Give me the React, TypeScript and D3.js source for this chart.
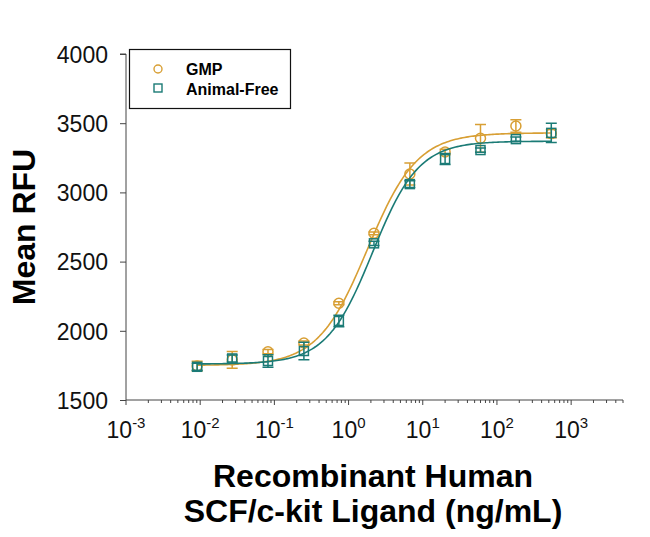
import * as d3 from "d3";
import React, { useEffect, useRef } from "react";

// concentrations (ng/mL), 3-fold dilution series
const doses = [0.0091, 0.027, 0.082, 0.25, 0.74, 2.2, 6.7, 20, 60, 180, 540];

const gmpMean = [1745, 1790, 1849, 1912, 2199, 2704, 3133, 3292, 3391, 3480, 3425];
const gmpErr = [35, 60, 15, 15, 10, 10, 80, 20, 100, 45, 30];

const afMean = [1740, 1800, 1782, 1854, 2071, 2632, 3060, 3241, 3306, 3385, 3430];
const afErr = [25, 25, 45, 64, 42, 15, 25, 40, 15, 15, 70];

// 4PL fit parameters: bottom, top, EC50, hill
const gmpFit = [1750, 3430, 1.8, 1.3];
const afFit = [1760, 3370, 2.1, 1.4];

const yTicks = [1500, 2000, 2500, 3000, 3500, 4000];
const xExponents = [-3, -2, -1, 0, 1, 2, 3];

const GMP_COLOR = "#d89f34";
const AF_COLOR = "#1b7b76";
const FONT = "'Liberation Sans', Arial, sans-serif";

export default function App() {
  const ref = useRef<SVGSVGElement>(null);

  useEffect(() => {
    const svg = d3.select(ref.current);
    svg.selectAll("*").remove();

    const x = d3.scaleLog().domain([0.001, 5000]).range([126, 623]);
    const y = d3.scaleLinear().domain([1500, 4000]).range([400, 54]);

    // y axis
    const yAxis = svg
      .append("g")
      .attr("transform", "translate(126,0)")
      .call(d3.axisLeft(y).tickValues(yTicks).tickSize(6).tickPadding(12).tickFormat(d3.format("d")));
    yAxis.select(".domain").attr("stroke", "#444").attr("d", `M-6,${y(4000)}H0V${y(1500)}`);
    yAxis.selectAll(".tick line").attr("stroke", "#444");
    yAxis.selectAll("text").attr("font-family", FONT).attr("font-size", 23).attr("fill", "#111").attr("dy", "0.36em");

    // x axis with minor ticks
    const minor: number[] = [];
    for (let e = -3; e <= 3; e++) {
      for (let m = 2; m <= 9; m++) {
        const v = m * Math.pow(10, e);
        if (v <= 5000) minor.push(v);
      }
    }
    const xg = svg.append("g").attr("transform", "translate(0,400)");
    xg.append("line").attr("x1", 126).attr("x2", 623).attr("stroke", "#444");
    xg.selectAll(".minor")
      .data(minor)
      .join("line")
      .attr("x1", (d) => x(d))
      .attr("x2", (d) => x(d))
      .attr("y2", 3)
      .attr("stroke", "#444");
    xg.selectAll(".major")
      .data(xExponents)
      .join("line")
      .attr("x1", (d) => x(Math.pow(10, d)))
      .attr("x2", (d) => x(Math.pow(10, d)))
      .attr("y2", 5)
      .attr("stroke", "#444");
    const lbl = xg
      .selectAll(".lbl")
      .data(xExponents)
      .join("text")
      .attr("x", (d) => x(Math.pow(10, d)))
      .attr("y", 38)
      .attr("text-anchor", "middle")
      .attr("font-family", FONT)
      .attr("fill", "#111");
    lbl.append("tspan").attr("font-size", 23).text("10");
    lbl.append("tspan").attr("font-size", 15).attr("dy", -10).text((d) => String(d));

    // titles
    svg
      .append("text")
      .attr("transform", "translate(35,227) rotate(-90)")
      .attr("text-anchor", "middle")
      .attr("font-family", FONT)
      .attr("font-weight", "bold")
      .attr("font-size", 32)
      .text("Mean RFU");
    const xt = svg
      .append("text")
      .attr("text-anchor", "middle")
      .attr("font-family", FONT)
      .attr("font-weight", "bold")
      .attr("font-size", 32);
    xt.append("tspan").attr("x", 373).attr("y", 487).text("Recombinant Human");
    xt.append("tspan").attr("x", 373).attr("y", 522).text("SCF/c-kit Ligand (ng/mL)");

    const series = [
      { mean: gmpMean, err: gmpErr, fit: gmpFit, color: GMP_COLOR, shape: "circle" },
      { mean: afMean, err: afErr, fit: afFit, color: AF_COLOR, shape: "square" },
    ];

    const curveX = d3.range(0, 201).map((i) =>
      Math.pow(10, Math.log10(doses[0]) + (i / 200) * (Math.log10(doses[doses.length - 1]) - Math.log10(doses[0])))
    );

    series.forEach((s) => {
      const [bot, top, ec50, hill] = s.fit;
      const fourPL = (c: number) => bot + (top - bot) / (1 + Math.pow(ec50 / c, hill));
      const line = d3
        .line<number>()
        .x((c) => x(c))
        .y((c) => y(fourPL(c)));
      const g = svg.append("g");
      g.append("path")
        .datum(curveX)
        .attr("fill", "none")
        .attr("stroke", s.color)
        .attr("stroke-width", 1.6)
        .attr("d", line);

      doses.forEach((c, i) => {
        const cx = x(c);
        const lo = y(s.mean[i] - s.err[i]);
        const hi = y(s.mean[i] + s.err[i]);
        g.append("path")
          .attr("d", `M${cx},${lo}V${hi}M${cx - 5.5},${hi}H${cx + 5.5}M${cx - 5.5},${lo}H${cx + 5.5}`)
          .attr("stroke", s.color)
          .attr("stroke-width", 1.5)
          .attr("fill", "none");
        if (s.shape === "circle") {
          g.append("circle")
            .attr("cx", cx)
            .attr("cy", y(s.mean[i]))
            .attr("r", 5)
            .attr("fill", "none")
            .attr("stroke", s.color)
            .attr("stroke-width", 1.5);
        } else {
          g.append("rect")
            .attr("x", cx - 4.5)
            .attr("y", y(s.mean[i]) - 4.5)
            .attr("width", 9)
            .attr("height", 9)
            .attr("fill", "none")
            .attr("stroke", s.color)
            .attr("stroke-width", 1.5);
        }
      });
    });

    // legend
    const lg = svg.append("g");
    lg.append("rect")
      .attr("x", 129.5)
      .attr("y", 49.5)
      .attr("width", 161)
      .attr("height", 59)
      .attr("fill", "white")
      .attr("stroke", "#111")
      .attr("stroke-width", 1.2);
    lg.append("circle").attr("cx", 158).attr("cy", 69).attr("r", 4).attr("fill", "none").attr("stroke", GMP_COLOR).attr("stroke-width", 1.4);
    lg.append("rect").attr("x", 154).attr("y", 84).attr("width", 8).attr("height", 8).attr("fill", "none").attr("stroke", AF_COLOR).attr("stroke-width", 1.4);
    lg.append("text").attr("x", 186).attr("y", 74.5).attr("font-family", FONT).attr("font-weight", "bold").attr("font-size", 16).text("GMP");
    lg.append("text").attr("x", 186).attr("y", 94.5).attr("font-family", FONT).attr("font-weight", "bold").attr("font-size", 16).text("Animal-Free");
  }, []);

  return (
    <svg
      ref={ref}
      width={650}
      height={537}
      style={{ position: "absolute", left: 0, top: 0, background: "white" }}
    />
  );
}
